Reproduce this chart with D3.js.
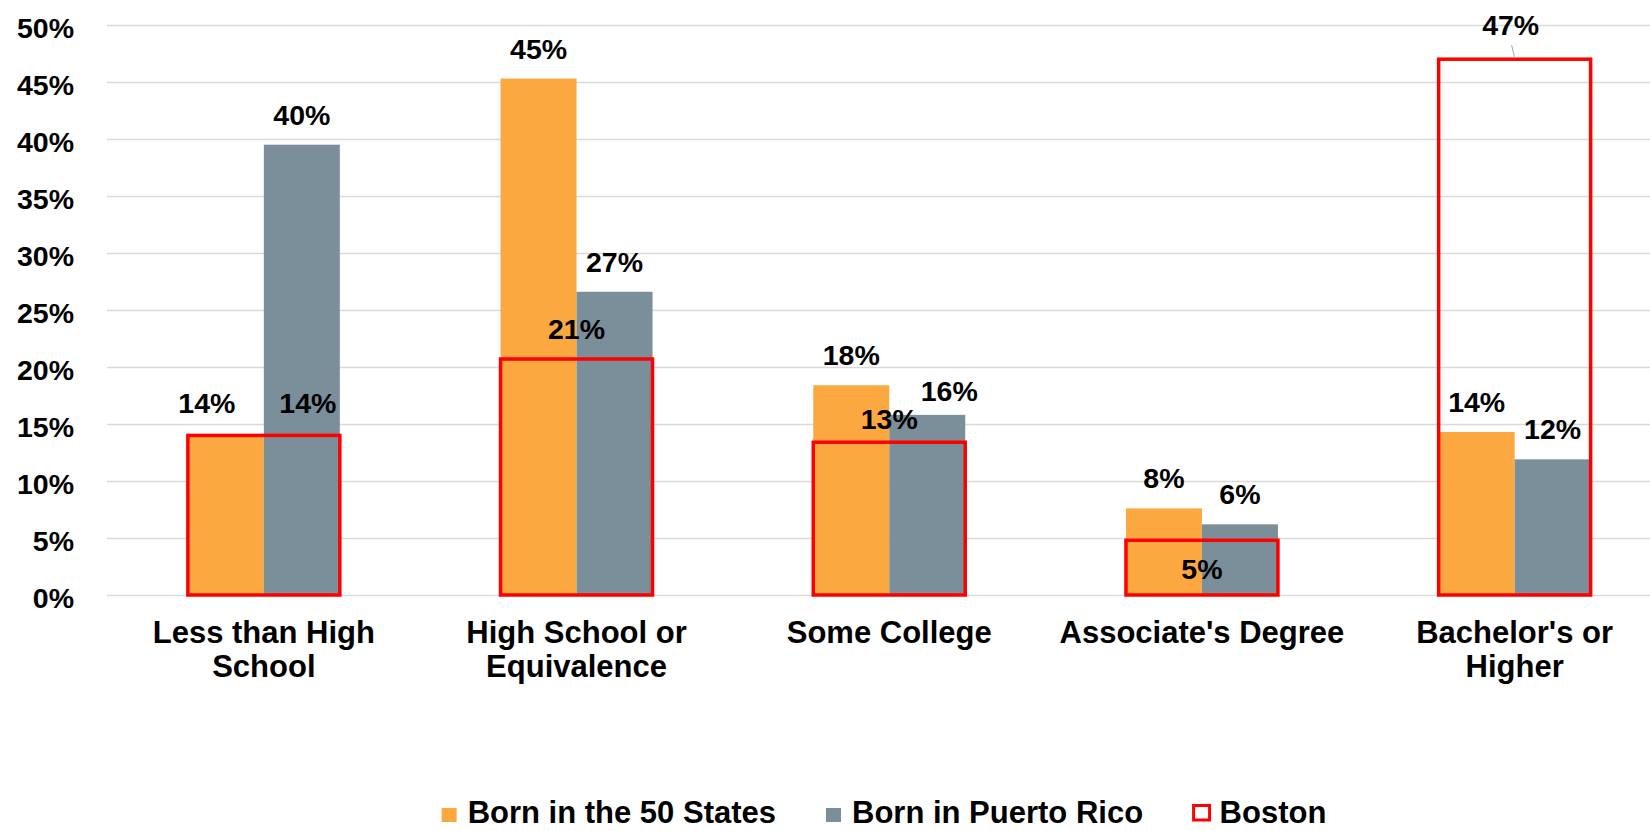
<!DOCTYPE html>
<html>
<head>
<meta charset="utf-8">
<script src="https://cdn.jsdelivr.net/npm/d3@7"></script>
<style>
  body { margin: 0; background: #fff; }
  text { font-family: "Liberation Sans", Arial, sans-serif; font-weight: bold; fill: #000; }
</style>
</head>
<body>
<script>
// data (percent)
var categories = ["Less than High School", "High School or Equivalence", "Some College", "Associate's Degree", "Bachelor's or Higher"];
var seriesNames = ["Born in the 50 States", "Born in Puerto Rico", "Boston"];
var bornStates = [14.0, 45.3, 18.4, 7.6, 14.3];
var bornPR = [39.5, 26.6, 15.8, 6.2, 11.9];
var boston = [14.0, 20.7, 13.4, 4.8, 47.0];
var yTicks = [0, 5, 10, 15, 20, 25, 30, 35, 40, 45, 50];

// label nudges (px) where the original labels were moved by hand
var nudgeStates = [[-19, -2], [0, 0], [0, 0], [0, 0], [0, 0]];
var nudgePR = [[0, 0], [0, 0], [22, 6], [0, 0], [0, 0]];
var nudgeBoston = [[44, -2], [0, 0], [0, 7], [0, 59], [-4, -4]];

var W = 1650, H = 831;
var colors = ["#fca840", "#7a8f99"];
var red = "#ff0000";

var svg = d3.select("body").append("svg")
  .attr("width", W)
  .attr("height", H);

var x0 = d3.scaleBand()
  .domain(categories)
  .range([107.5, 1671])
  .paddingInner(0.514)
  .paddingOuter(0.257);

var x1 = d3.scaleBand()
  .domain([0, 1])
  .range([0, x0.bandwidth()]);

var y = d3.scaleLinear()
  .domain([0, 50])
  .range([595, 25]);

// gridlines + y labels
var yAxis = d3.axisLeft(y)
  .tickValues(yTicks)
  .tickSize(-(W - 107))
  .tickPadding(33)
  .tickFormat(function(d) { return d + "%"; });

var gy = svg.append("g")
  .attr("transform", "translate(107,0)")
  .call(yAxis);
gy.select(".domain").remove();
gy.selectAll("line").attr("stroke", "#d9d9d9").attr("stroke-width", 1.5);
gy.selectAll("text")
  .attr("dy", "0.43em")
  .style("font-size", "28.5px")
  .style("font-family", "'Liberation Sans', Arial, sans-serif")
  .style("font-weight", "bold")
  .attr("fill", "#000");

var fmt = function(v) { return d3.format(".0f")(v) + "%"; };

// bars
var seriesVals = [bornStates, bornPR];
var nudges = [nudgeStates, nudgePR];
seriesVals.forEach(function(vals, s) {
  var g = svg.append("g");
  g.selectAll("rect")
    .data(vals)
    .enter().append("rect")
    .attr("x", function(d, i) { return x0(categories[i]) + x1(s); })
    .attr("y", function(d) { return y(d); })
    .attr("width", x1.bandwidth())
    .attr("height", function(d) { return y(0) - y(d); })
    .attr("fill", colors[s]);
});

// Boston outline boxes
svg.append("g").selectAll("rect")
  .data(boston)
  .enter().append("rect")
  .attr("x", function(d, i) { return x0(categories[i]); })
  .attr("y", function(d) { return y(d); })
  .attr("width", x0.bandwidth())
  .attr("height", function(d) { return y(0) - y(d); })
  .attr("fill", "none")
  .attr("stroke", red)
  .attr("stroke-width", 3.5);

// value labels
seriesVals.forEach(function(vals, s) {
  svg.append("g").selectAll("text")
    .data(vals)
    .enter().append("text")
    .attr("x", function(d, i) { return x0(categories[i]) + x1(s) + x1.bandwidth() / 2 + nudges[s][i][0]; })
    .attr("y", function(d, i) { return y(d) - 20 + nudges[s][i][1]; })
    .attr("text-anchor", "middle")
    .style("font-size", "28.5px")
    .text(fmt);
});

svg.append("g").selectAll("text")
  .data(boston)
  .enter().append("text")
  .attr("x", function(d, i) { return x0(categories[i]) + x0.bandwidth() / 2 + nudgeBoston[i][0]; })
  .attr("y", function(d, i) { return y(d) - 20 + nudgeBoston[i][1]; })
  .attr("text-anchor", "middle")
  .style("font-size", "28.5px")
  .text(fmt);

// leader line for the moved 47% label
var last = boston.length - 1;
var bx = x0(categories[last]) + x0.bandwidth() / 2;
svg.append("line")
  .attr("x1", bx + nudgeBoston[last][0] + 1)
  .attr("y1", y(boston[last]) - 20 + nudgeBoston[last][1] + 10)
  .attr("x2", bx)
  .attr("y2", y(boston[last]) - 1)
  .attr("stroke", "#a6a6a6")
  .attr("stroke-width", 1);

// category labels, wrapped
var catG = svg.append("g");
categories.forEach(function(c) {
  var t = catG.append("text")
    .attr("text-anchor", "middle")
    .attr("x", x0(c) + x0.bandwidth() / 2)
    .attr("y", 643)
    .style("font-size", "31px");
  var words = c.split(" "), line = [];
  var tspan = t.append("tspan").attr("x", x0(c) + x0.bandwidth() / 2).attr("dy", 0);
  words.forEach(function(w) {
    line.push(w);
    tspan.text(line.join(" "));
    if (tspan.node().getComputedTextLength() > 295 && line.length > 1) {
      line.pop();
      tspan.text(line.join(" "));
      line = [w];
      tspan = t.append("tspan").attr("x", x0(c) + x0.bandwidth() / 2).attr("dy", 33.7).text(w);
    }
  });
});

// legend
var leg = svg.append("g");
var lx = 0;
var ly = 823;
seriesNames.forEach(function(name, i) {
  var item = leg.append("g").attr("transform", "translate(" + lx + ",0)");
  if (i < 2) {
    item.append("rect").attr("x", 0).attr("y", ly - 15).attr("width", 15).attr("height", 14).attr("fill", colors[i]);
  } else {
    item.append("rect").attr("x", 1.5).attr("y", ly - 17.5).attr("width", 16).attr("height", 14.5)
      .attr("fill", "none").attr("stroke", red).attr("stroke-width", 3);
  }
  var tx = i < 2 ? 26 : 27.5;
  var t = item.append("text").attr("x", tx).attr("y", ly).style("font-size", "31px").text(name);
  lx += tx + t.node().getComputedTextLength() + (i == 0 ? 50 : 49);
});
var lb = leg.node().getBBox();
leg.attr("transform", "translate(" + (884 - lb.width / 2 - lb.x) + ",0)");
</script>
</body>
</html>
